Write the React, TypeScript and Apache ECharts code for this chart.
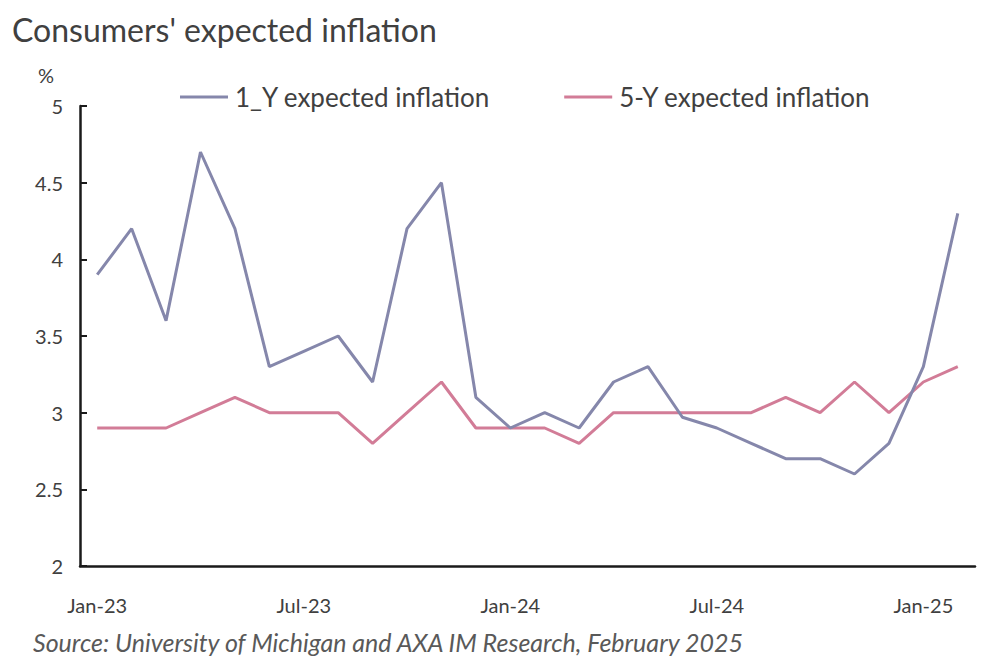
import React, { useEffect, useRef } from "react";
import * as echarts from "echarts";

const categories = [
  "Jan-23", "Feb-23", "Mar-23", "Apr-23", "May-23", "Jun-23", "Jul-23", "Aug-23", "Sep-23", "Oct-23", "Nov-23", "Dec-23",
  "Jan-24", "Feb-24", "Mar-24", "Apr-24", "May-24", "Jun-24", "Jul-24", "Aug-24", "Sep-24", "Oct-24", "Nov-24", "Dec-24",
  "Jan-25", "Feb-25",
];

const oneYear = [
  3.9, 4.2, 3.6, 4.7, 4.2, 3.3, 3.4, 3.5, 3.2, 4.2, 4.5, 3.1,
  2.9, 3.0, 2.9, 3.2, 3.3, 2.97, 2.9, 2.8, 2.7, 2.7, 2.6, 2.8,
  3.3, 4.3,
];

const fiveYear = [
  2.9, 2.9, 2.9, 3.0, 3.1, 3.0, 3.0, 3.0, 2.8, 3.0, 3.2, 2.9,
  2.9, 2.9, 2.8, 3.0, 3.0, 3.0, 3.0, 3.0, 3.1, 3.0, 3.2, 3.0,
  3.2, 3.3,
];

const seriesNames = ["1_Y expected inflation", "5-Y expected inflation"];
const titleText = "Consumers' expected inflation";
const sourceText = "Source: University of Michigan and AXA IM Research, February 2025";
const unitText = "%";

const FONT = "Lato, 'Noto Sans', sans-serif";
const BLUE = "#8587AB";
const PINK = "#D27C97";

export default function App() {
  const ref = useRef<HTMLDivElement>(null);

  useEffect(() => {
    if (!ref.current) return;
    const chart = echarts.init(ref.current, null, { renderer: "svg" });
    chart.setOption({
      animation: false,
      backgroundColor: "#ffffff",
      textStyle: { fontFamily: FONT },
      title: [
        {
          text: titleText,
          left: 12,
          top: 13,
          padding: 0,
          textStyle: { fontFamily: FONT, fontSize: 32, fontWeight: "normal", color: "#404040" },
        },
        {
          text: sourceText,
          left: 33,
          top: 629,
          padding: 0,
          textStyle: { fontFamily: FONT, fontSize: 25, fontStyle: "italic", fontWeight: "normal", color: "#595959" },
        },
      ],
      graphic: [
        {
          type: "text",
          left: 38,
          top: 65,
          style: { text: unitText, fontFamily: FONT, fontSize: 20, fill: "#404040" },
        },
      ],
      legend: {
        left: 180,
        top: 84,
        padding: 0,
        itemWidth: 48,
        itemHeight: 3,
        itemGap: 74,
        icon: "rect",
        textStyle: { fontFamily: FONT, fontSize: 26, color: "#404040", padding: [0, 0, 0, 2] },
        data: seriesNames,
      },
      grid: { left: 80, top: 106, width: 895, bottom: 94, containLabel: false },
      xAxis: {
        type: "category",
        data: categories,
        boundaryGap: true,
        axisLine: { lineStyle: { color: "#1a1a1a", width: 2.5 } },
        axisTick: { interval: 2, inside: true, length: 8, lineStyle: { color: "#1a1a1a", width: 2 } },
        axisLabel: { interval: 5, margin: 29, fontFamily: FONT, fontSize: 20, color: "#404040" },
        splitLine: { show: false },
      },
      yAxis: {
        type: "value",
        min: 2,
        max: 5,
        interval: 0.5,
        axisLine: { show: true, lineStyle: { color: "#1a1a1a", width: 2.5 } },
        axisTick: { show: true, inside: true, length: 7, lineStyle: { color: "#1a1a1a", width: 2 } },
        axisLabel: { margin: 17, fontFamily: FONT, fontSize: 20, color: "#404040" },
        splitLine: { show: false },
      },
      series: [
        {
          name: seriesNames[0],
          type: "line",
          data: oneYear,
          symbol: "none",
          color: BLUE,
          lineStyle: { color: BLUE, width: 3 },
          z: 3,
        },
        {
          name: seriesNames[1],
          type: "line",
          data: fiveYear,
          symbol: "none",
          color: PINK,
          lineStyle: { color: PINK, width: 3 },
          z: 2,
        },
      ],
    });
    return () => chart.dispose();
  }, []);

  return (
    <div
      ref={ref}
      style={{ position: "fixed", left: 0, top: 0, width: 998, height: 660 }}
    />
  );
}
